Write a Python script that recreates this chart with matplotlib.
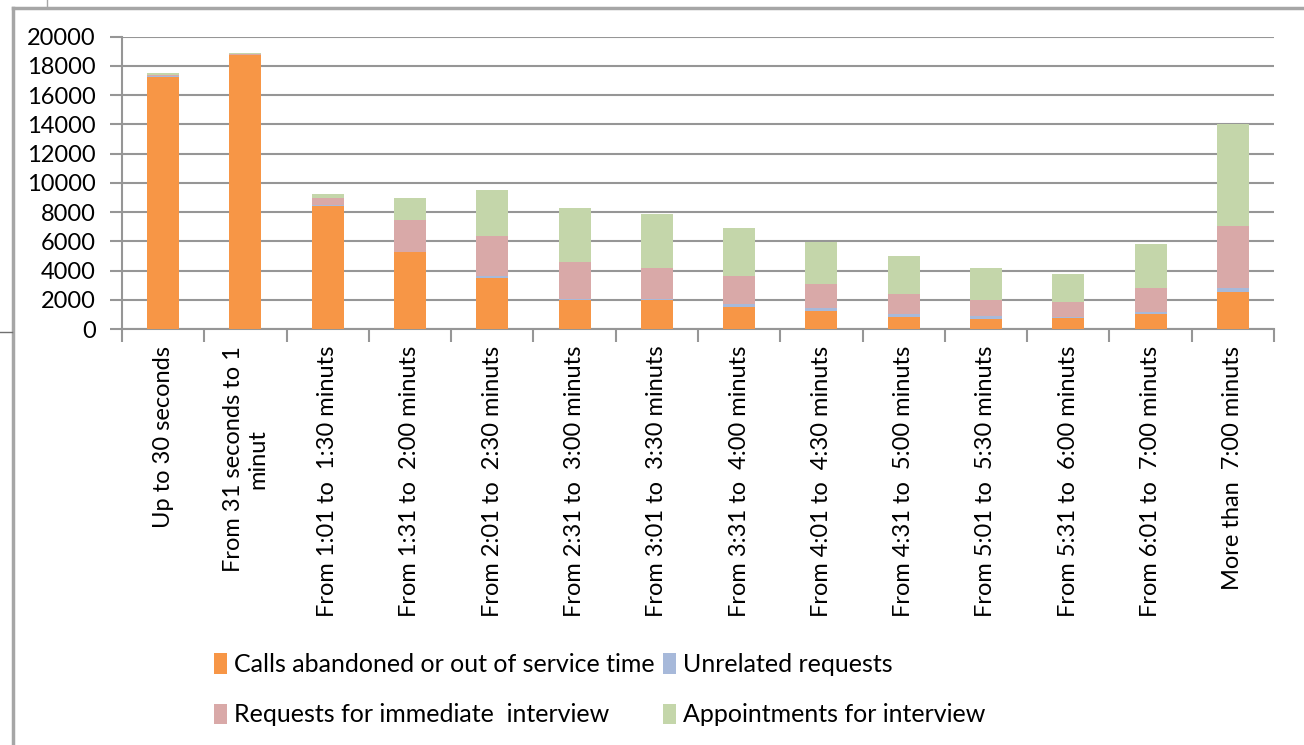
import matplotlib
matplotlib.use("Agg")
import matplotlib.pyplot as plt
from matplotlib.patches import Patch
from matplotlib.lines import Line2D
import numpy as np

plt.rcParams['font.family'] = ['Lato', 'DejaVu Sans']

categories = [
    "Up to 30 seconds",
    "From 31 seconds to 1\nminut",
    "From 1:01 to  1:30 minuts",
    "From 1:31 to  2:00 minuts",
    "From 2:01 to  2:30 minuts",
    "From 2:31 to  3:00 minuts",
    "From 3:01 to  3:30 minuts",
    "From 3:31 to  4:00 minuts",
    "From 4:01 to  4:30 minuts",
    "From 4:31 to  5:00 minuts",
    "From 5:01 to  5:30 minuts",
    "From 5:31 to  6:00 minuts",
    "From 6:01 to  7:00 minuts",
    "More than  7:00 minuts",
]

abandoned = [17250, 18750, 8430, 5240, 3470, 1960, 1960, 1530, 1250, 820, 680, 730, 1000, 2510]
unrelated = [20, 10, 30, 40, 150, 110, 110, 160, 160, 200, 210, 60, 160, 270]
immediate = [130, 20, 490, 2170, 2740, 2490, 2080, 1910, 1645, 1350, 1070, 1035, 1620, 4295]
appointments = [100, 100, 300, 1500, 3140, 3710, 3730, 3300, 2870, 2620, 2190, 1915, 3010, 6955]

series = [
    ("Calls abandoned or out of service time", abandoned, "#F79646"),
    ("Unrelated requests", unrelated, "#A7B9DA"),
    ("Requests for immediate  interview", immediate, "#D9A9A8"),
    ("Appointments for interview", appointments, "#C4D6AA"),
]

W, H = 1304, 745
fig = plt.figure(figsize=(W / 100, H / 100), dpi=100)
ax = fig.add_axes([122 / W, 1 - 329 / H, (1274 - 122) / W, (329 - 36.5) / H])

x = np.arange(len(categories))
bottom = np.zeros(len(categories))
for name, vals, color in series:
    ax.bar(x, vals, width=0.39, bottom=bottom, color=color, label=name,
           edgecolor="none", zorder=3)
    bottom += np.array(vals)

grid_col = "#969696"
ax.set_xlim(-0.5, len(categories) - 0.5)
ax.set_ylim(0, 20000)
ax.set_yticks(np.arange(0, 20001, 2000))
ax.tick_params(axis="y", length=9, width=1.5, color=grid_col, labelsize=17, pad=10)
ax.yaxis.grid(True, color=grid_col, linewidth=1.5, zorder=0)

ax.set_xticks(x)
ax.set_xticklabels(categories, rotation=90, va="top", ha="center",
                   fontsize=17, multialignment="center")
ax.tick_params(axis="x", length=0, pad=12)
ax.set_xticks(np.arange(-0.5, len(categories), 1.0), minor=True)
ax.tick_params(axis="x", which="minor", length=9, width=1.5, color=grid_col)

for side in ("top", "right"):
    ax.spines[side].set_visible(False)
ax.spines["left"].set_color(grid_col)
ax.spines["left"].set_linewidth(1.5)
ax.spines["bottom"].set_color(grid_col)
ax.spines["bottom"].set_linewidth(1.5)

handles = [Patch(facecolor=c, edgecolor="none") for _, _, c in series]
labels = [n for n, _, _ in series]
order = [0, 2, 1, 3]
fig.legend([handles[i] for i in order], [labels[i] for i in order],
           loc="upper left", bbox_to_anchor=(214 / W, 1 - 653 / H),
           ncol=2, frameon=False, fontsize=18,
           handlelength=0.5, handleheight=0.9, handletextpad=0.3,
           columnspacing=0.35, labelspacing=1.1, borderaxespad=0, borderpad=0)

# outer chart frame
frame_col = "#A6A6A6"
fig.add_artist(Line2D([13 / W, 1], [1 - 8 / H, 1 - 8 / H], color=frame_col, linewidth=2.5))
fig.add_artist(Line2D([13 / W, 13 / W], [0, 1 - 8 / H], color=frame_col, linewidth=2.5))
fig.add_artist(Line2D([46.5 / W, 46.5 / W], [1 - 7 / H, 1], color=frame_col, linewidth=1))
fig.add_artist(Line2D([0, 12 / W], [1 - 332 / H, 1 - 332 / H], color="#707070", linewidth=1))

fig.savefig("out.png", dpi=100, facecolor="white")
